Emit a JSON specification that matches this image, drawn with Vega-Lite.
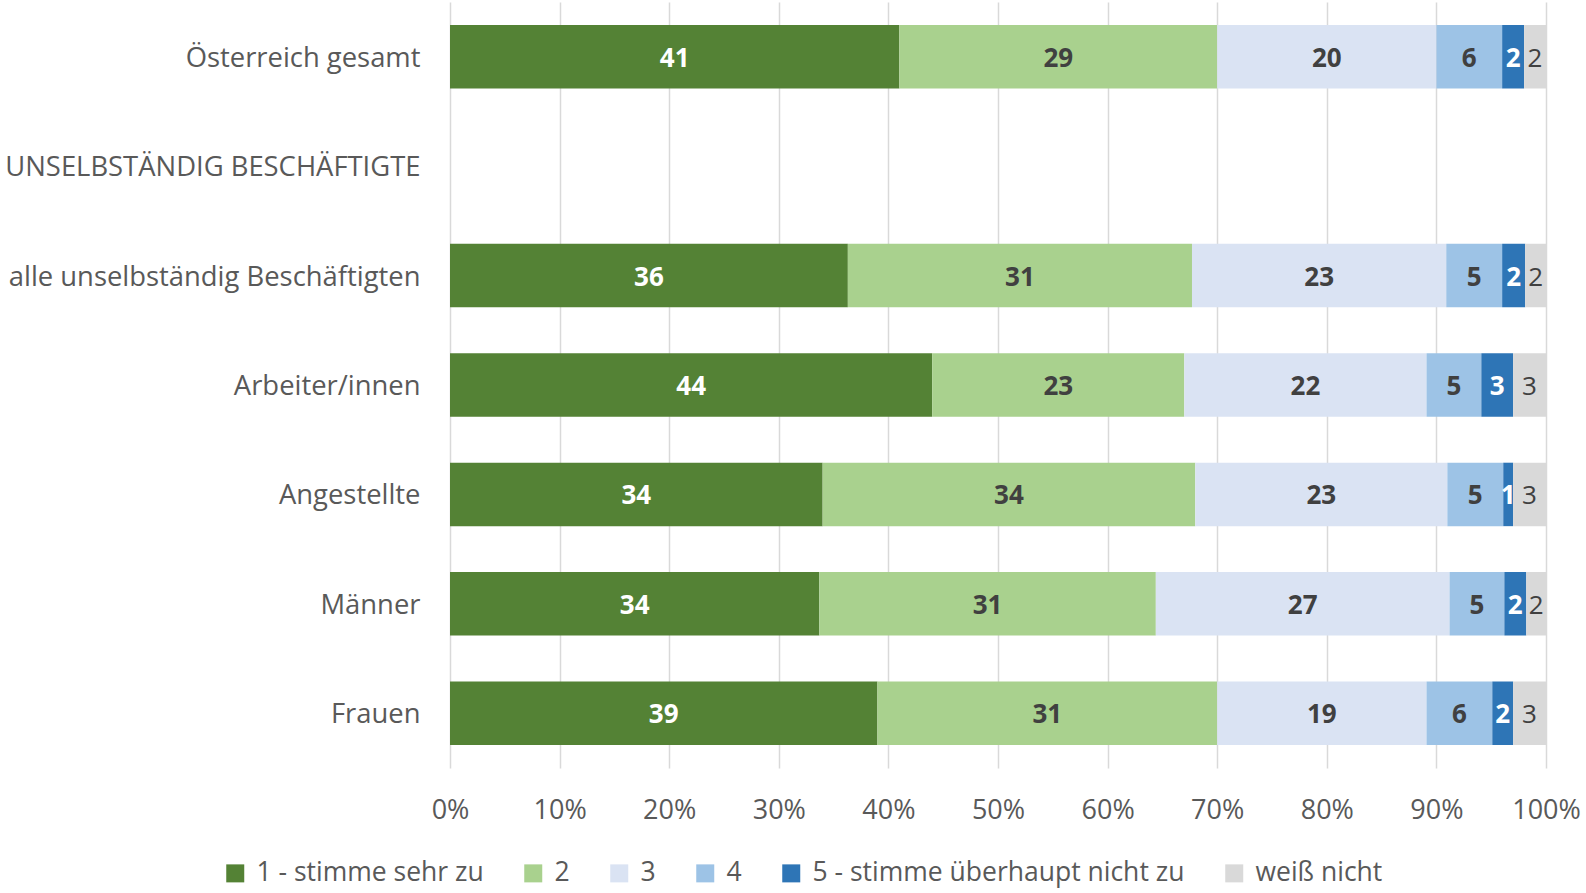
{
  "$schema": "https://vega.github.io/schema/vega-lite/v6.json",
  "width": 1096,
  "height": 766,
  "autosize": "none",
  "padding": {"left": 450, "top": 2, "right": 40, "bottom": 125},
  "config": {
    "font": "Open Sans",
    "view": {"stroke": null},
    "axis": {"labelColor": "#595959", "labelFontSize": 27, "labelFont": "Open Sans", "domain": false, "ticks": false, "tickSize": 0, "title": null}
  },
  "data": {
    "values": [
      {"g": "Österreich gesamt", "k": "1 - stimme sehr zu", "v": 41},
      {"g": "Österreich gesamt", "k": "2", "v": 29},
      {"g": "Österreich gesamt", "k": "3", "v": 20},
      {"g": "Österreich gesamt", "k": "4", "v": 6},
      {"g": "Österreich gesamt", "k": "5 - stimme überhaupt nicht zu", "v": 2},
      {"g": "Österreich gesamt", "k": "weiß nicht", "v": 2},
      {"g": "alle unselbständig Beschäftigten", "k": "1 - stimme sehr zu", "v": 36.3},
      {"g": "alle unselbständig Beschäftigten", "k": "2", "v": 31.4},
      {"g": "alle unselbständig Beschäftigten", "k": "3", "v": 23.2},
      {"g": "alle unselbständig Beschäftigten", "k": "4", "v": 5.1},
      {"g": "alle unselbständig Beschäftigten", "k": "5 - stimme überhaupt nicht zu", "v": 2.1},
      {"g": "alle unselbständig Beschäftigten", "k": "weiß nicht", "v": 1.9},
      {"g": "Arbeiter/innen", "k": "1 - stimme sehr zu", "v": 44},
      {"g": "Arbeiter/innen", "k": "2", "v": 23},
      {"g": "Arbeiter/innen", "k": "3", "v": 22.1},
      {"g": "Arbeiter/innen", "k": "4", "v": 5},
      {"g": "Arbeiter/innen", "k": "5 - stimme überhaupt nicht zu", "v": 2.9},
      {"g": "Arbeiter/innen", "k": "weiß nicht", "v": 3},
      {"g": "Angestellte", "k": "1 - stimme sehr zu", "v": 34},
      {"g": "Angestellte", "k": "2", "v": 34},
      {"g": "Angestellte", "k": "3", "v": 23},
      {"g": "Angestellte", "k": "4", "v": 5.1},
      {"g": "Angestellte", "k": "5 - stimme überhaupt nicht zu", "v": 0.9},
      {"g": "Angestellte", "k": "weiß nicht", "v": 3},
      {"g": "Männer", "k": "1 - stimme sehr zu", "v": 33.7},
      {"g": "Männer", "k": "2", "v": 30.7},
      {"g": "Männer", "k": "3", "v": 26.8},
      {"g": "Männer", "k": "4", "v": 5},
      {"g": "Männer", "k": "5 - stimme überhaupt nicht zu", "v": 2},
      {"g": "Männer", "k": "weiß nicht", "v": 1.8},
      {"g": "Frauen", "k": "1 - stimme sehr zu", "v": 39},
      {"g": "Frauen", "k": "2", "v": 31},
      {"g": "Frauen", "k": "3", "v": 19.1},
      {"g": "Frauen", "k": "4", "v": 6},
      {"g": "Frauen", "k": "5 - stimme überhaupt nicht zu", "v": 1.9},
      {"g": "Frauen", "k": "weiß nicht", "v": 3}
    ]
  },
  "transform": [
    {"stack": "v", "groupby": ["g"], "sort": [{"field": "k", "order": "ascending"}], "as": ["v0", "v1"]},
    {"calculate": "(datum.v0 + datum.v1) / 2", "as": "mid"}
  ],
  "encoding": {
    "y": {
      "field": "g",
      "type": "nominal",
      "scale": {
        "domain": ["Österreich gesamt", "UNSELBSTÄNDIG BESCHÄFTIGTE", "alle unselbständig Beschäftigten", "Arbeiter/innen", "Angestellte", "Männer", "Frauen"],
        "paddingInner": 0.42,
        "paddingOuter": 0.21
      },
      "axis": {"labelPadding": 30, "labelLimit": 500, "labelFontSize": 27.4, "labelOffset": 2}
    }
  },
  "layer": [
    {
      "mark": {"type": "bar"},
      "encoding": {
        "x": {
          "field": "v0",
          "type": "quantitative",
          "scale": {"domain": [0, 100], "nice": false},
          "axis": {"values": [0, 10, 20, 30, 40, 50, 60, 70, 80, 90, 100], "labelExpr": "datum.value + '%'", "grid": true, "gridColor": "#D9D9D9", "gridWidth": 1.5, "labelPadding": 29, "labelFlush": false}
        },
        "x2": {"field": "v1"},
        "color": {
          "field": "k",
          "type": "nominal",
          "scale": {
            "domain": ["1 - stimme sehr zu", "2", "3", "4", "5 - stimme überhaupt nicht zu", "weiß nicht"],
            "range": ["#548235", "#A9D18E", "#DAE3F3", "#9DC3E6", "#2E75B6", "#D9D9D9"]
          },
          "legend": {
            "orient": "none",
            "legendX": -228,
            "legendY": 858,
            "direction": "horizontal",
            "columns": 6,
            "title": null,
            "symbolType": "square",
            "symbolSize": 324,
            "symbolStrokeWidth": 0,
            "labelFontSize": 26.5,
            "labelFont": "Open Sans",
            "labelColor": "#595959",
            "labelOffset": 8,
            "columnPadding": 36,
            "labelLimit": 600
          }
        }
      }
    },
    {
      "transform": [{"filter": "datum.k == '1 - stimme sehr zu' || datum.k == '5 - stimme überhaupt nicht zu'"}],
      "mark": {"type": "text", "color": "#FFFFFF", "fontWeight": "bold", "fontSize": 26, "dy": 2},
      "encoding": {
        "x": {"field": "mid", "type": "quantitative"},
        "text": {"field": "v", "type": "quantitative", "format": ".0f"}
      }
    },
    {
      "transform": [{"filter": "datum.k == '2' || datum.k == '3' || datum.k == '4'"}],
      "mark": {"type": "text", "color": "#404040", "fontWeight": "bold", "fontSize": 26, "dy": 2},
      "encoding": {
        "x": {"field": "mid", "type": "quantitative"},
        "text": {"field": "v", "type": "quantitative", "format": ".0f"}
      }
    },
    {
      "transform": [{"filter": "datum.k == 'weiß nicht'"}],
      "mark": {"type": "text", "color": "#404040", "fontWeight": "normal", "fontSize": 26, "dy": 2},
      "encoding": {
        "x": {"field": "mid", "type": "quantitative"},
        "text": {"field": "v", "type": "quantitative", "format": ".0f"}
      }
    }
  ]
}
